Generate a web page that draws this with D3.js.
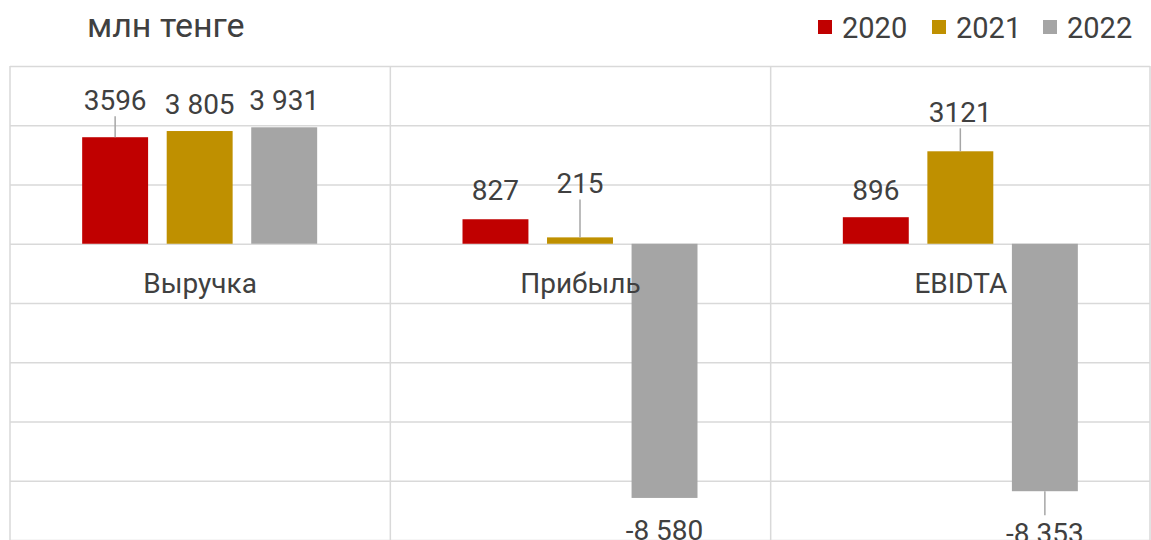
<!DOCTYPE html>
<html>
<head>
<meta charset="utf-8">
<script src="https://cdn.jsdelivr.net/npm/d3@7"></script>
<style>
  body { margin: 0; background: #fff; }
  text { font-family: Roboto, "Noto Sans", sans-serif; fill: #404040; }
</style>
</head>
<body>
<div id="chart"></div>
<script>
const w = 1151;
const h = 540;

const categories = ["Выручка", "Прибыль", "EBIDTA"];
const years = ["2020", "2021", "2022"];
const values2020 = [3596, 827, 896];
const values2021 = [3805, 215, 3121];
const values2022 = [3931, -8580, -8353];
const labels2020 = ["3596", "827", "896"];
const labels2021 = ["3 805", "215", "3121"];
const labels2022 = ["3 931", "-8 580", "-8 353"];
const yTicks = [-10000, -8000, -6000, -4000, -2000, 0, 2000, 4000, 6000];

const colors = ["#C00000", "#BF9000", "#A5A5A5"];
// how far each label sits from its bar end (px), and which ones get a leader line
const labelGap = [[37, 29, 27], [27, 54, 39], [27, 33, 42]];
const leader = [[true, false, false], [false, true, true], [false, false, true]];

const series = [values2020, values2021, values2022];
const seriesLabels = [labels2020, labels2021, labels2022];

const svg = d3.select("#chart").append("svg")
    .attr("width", w)
    .attr("height", h);

const x = d3.scaleBand()
    .domain(categories)
    .range([10, 1151])
    .padding(0);

const xInner = d3.scaleBand()
    .domain(years)
    .range([x.bandwidth() / 2 - 118, x.bandwidth() / 2 + 117])
    .paddingInner(0.22)
    .paddingOuter(0);

const y = d3.scaleLinear()
    .domain([-10000, 6000])
    .range([540, 66]);

// horizontal grid
svg.append("g")
    .attr("class", "grid")
    .call(d3.axisLeft(y).tickValues(yTicks).tickSize(-(1150 - 10)).tickFormat(""))
    .attr("transform", "translate(1150,0) scale(-1,1)")
    .call(g => g.select(".domain").remove())
    .call(g => g.selectAll("line").attr("stroke", "#D9D9D9").attr("stroke-width", 1.5));

// vertical separators
svg.append("g")
    .selectAll("line")
    .data([0, 1, 2, 3])
    .enter()
    .append("line")
    .attr("x1", i => i < 3 ? x(categories[i]) : x.range()[1] - 1)
    .attr("x2", i => i < 3 ? x(categories[i]) : x.range()[1] - 1)
    .attr("y1", y(6000))
    .attr("y2", h)
    .attr("stroke", "#D9D9D9")
    .attr("stroke-width", 1.5);

series.forEach((vals, s) => {
    const pts = vals.map((v, i) => ({
        v: v,
        cx: x(categories[i]) + xInner(years[s]) + xInner.bandwidth() / 2,
        gap: labelGap[s][i],
        lead: leader[s][i],
        label: seriesLabels[s][i]
    }));
    const g = svg.append("g");
    g.selectAll("rect")
        .data(pts)
        .enter()
        .append("rect")
        .attr("x", d => d.cx - xInner.bandwidth() / 2)
        .attr("width", xInner.bandwidth())
        .attr("y", d => y(Math.max(0, d.v)))
        .attr("height", d => Math.abs(y(d.v) - y(0)))
        .attr("fill", colors[s]);

    g.selectAll(".lead")
        .data(pts.filter(d => d.lead))
        .enter()
        .append("line")
        .attr("class", "lead")
        .attr("x1", d => d.cx)
        .attr("x2", d => d.cx)
        .attr("y1", d => y(d.v))
        .attr("y2", d => d.v >= 0 ? y(d.v) - (d.gap - 16) : y(d.v) + (d.gap - 18))
        .attr("stroke", "#A6A6A6")
        .attr("stroke-width", 1.5);

    g.selectAll("text")
        .data(pts)
        .enter()
        .append("text")
        .attr("x", d => d.cx)
        .attr("y", d => d.v >= 0 ? y(d.v) - d.gap : y(d.v) + d.gap)
        .attr("text-anchor", "middle")
        .attr("dominant-baseline", "central")
        .style("font-size", "28px")
        .text(d => d.label);
});

// category labels (on top of bars)
svg.append("g")
    .selectAll("text")
    .data(categories)
    .enter()
    .append("text")
    .attr("x", d => x(d) + x.bandwidth() / 2)
    .attr("y", y(0) + 40)
    .attr("text-anchor", "middle")
    .attr("dominant-baseline", "central")
    .style("font-size", "28px")
    .text(d => d);

// title
svg.append("text")
    .attr("x", 87)
    .attr("y", 37)
    .style("font-size", "34px")
    .text("млн тенге");

// legend
const legendX = [818, 932, 1043];
const legend = svg.append("g")
    .selectAll("g")
    .data(years)
    .enter()
    .append("g")
    .attr("transform", (d, i) => "translate(" + legendX[i] + ",0)");

legend.append("rect")
    .attr("x", 0)
    .attr("y", 20)
    .attr("width", 14)
    .attr("height", 14)
    .attr("fill", (d, i) => colors[i]);

legend.append("text")
    .attr("x", 24)
    .attr("y", 28)
    .attr("dominant-baseline", "central")
    .style("font-size", "29px")
    .text(d => d);
</script>
</body>
</html>
